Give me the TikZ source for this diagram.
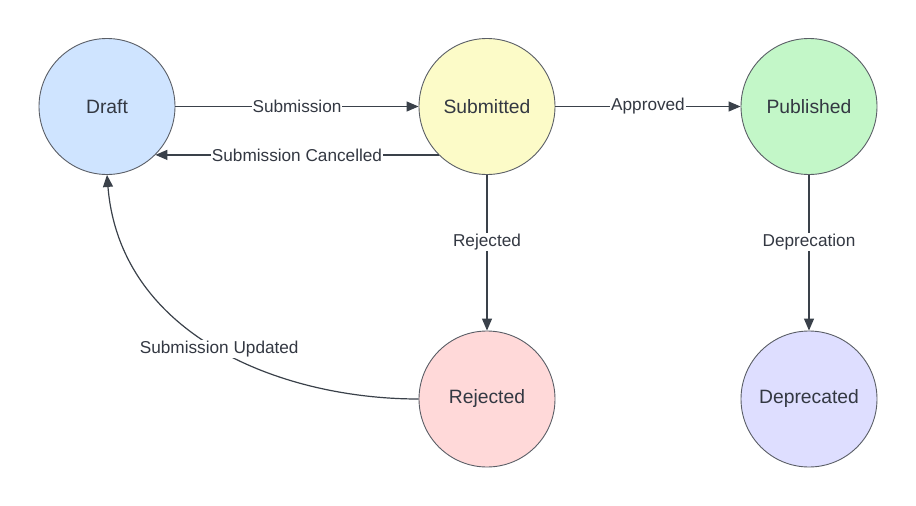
\documentclass[tikz,border=0pt]{standalone}
\usepackage{fontspec}
\setmainfont{Liberation Sans}
\usetikzlibrary{arrows.meta}
\definecolor{linec}{HTML}{3A414A}
\definecolor{borderc}{HTML}{5A5E66}
\definecolor{textc}{HTML}{333842}
\definecolor{draftc}{HTML}{CFE4FF}
\definecolor{subc}{HTML}{FCFBC8}
\definecolor{pubc}{HTML}{C3F7C8}
\definecolor{rejc}{HTML}{FFD9D9}
\definecolor{depc}{HTML}{DEDEFF}
\begin{document}
\begin{tikzpicture}[x=1pt,y=-1pt,
  state/.style={circle, draw=borderc, line width=0.9pt, minimum size=136pt, inner sep=0pt,
    font=\fontsize{19.3}{22}\selectfont, text=textc},
  edge/.style={draw=linec, line width=1.2pt, -{Triangle[length=12pt,width=10pt]}},
  lbl/.style={fill=white, font=\fontsize{17.2}{20}\selectfont, text=textc, inner sep=1pt}]
\useasboundingbox (0,0) rectangle (916,506);
\node[state, fill=draftc] (draft) at (107,106.5) {Draft};
\node[state, fill=subc] (sub) at (487,106.5) {Submitted};
\node[state, fill=pubc] (pub) at (809,106.5) {Published};
\node[state, fill=rejc] (rej) at (487,399) {Rejected};
\node[state, fill=depc] (dep) at (809,399) {Deprecated};
\draw[edge] (draft) -- node[lbl] {Submission} (sub);
\draw[edge] (sub.225) -- node[lbl] {Submission Cancelled} (draft.-45);
\draw[edge] (sub) -- node[lbl, pos=0.43] {Rejected} (rej);
\draw[edge] (sub) -- node[lbl] {Approved} (pub);
\draw[edge] (pub) -- node[lbl, pos=0.43] {Deprecation} (dep);
\draw[edge] (rej.west) .. controls (280,399) and (120,335) .. node[lbl, pos=0.49] {Submission Updated} (draft.south);
\end{tikzpicture}
\end{document}
